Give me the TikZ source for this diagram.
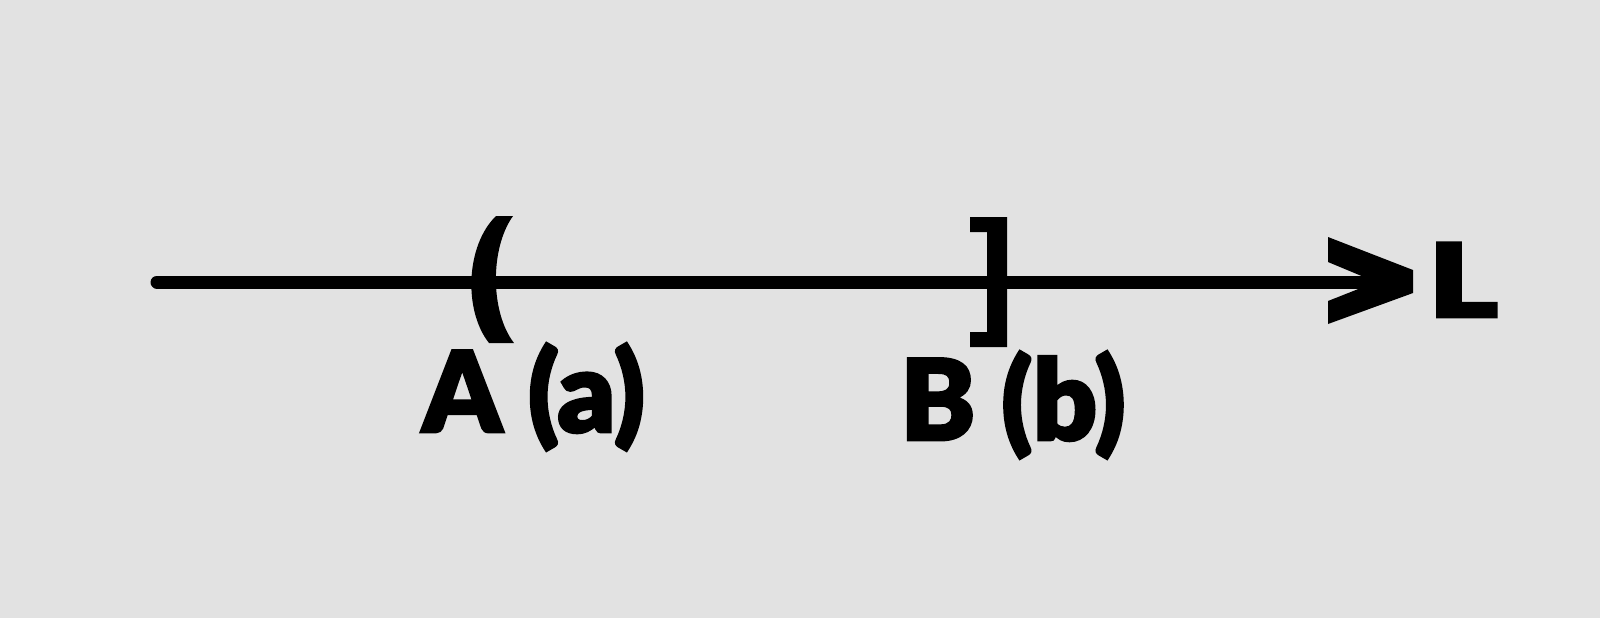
\documentclass[tikz,border=0pt]{standalone}
\usepackage{fontspec}
\usepackage{xcolor}
\usepackage{graphicx}
\usepackage{tikz}
\newfontfamily\labfont{Lato Black}[FakeBold=2.5]
\definecolor{bggray}{RGB}{226,226,226}

\begin{document}
\begin{tikzpicture}[x=0.5pt,y=0.5pt,yscale=-1,
  lab/.style={anchor=base west,inner sep=0pt,font=\labfont\fontsize{56}{60}\selectfont}]
\useasboundingbox (0,0) rectangle (1600,618);
\fill[bggray] (0,0) rectangle (1600,618);

% end points of the line
\coordinate (start) at (157,282);
\coordinate (tip) at (1378,282);

%Straight Lines
\draw[line width=6.5pt,line cap=round] (start) -- (tip);

%Shape: open end at a
\fill (496,216) -- (513,216) .. controls (490,248) and (490,312) .. (514,343) -- (489,343) .. controls (463,310) and (466,245) .. (496,216) -- cycle;
%Shape: closed end at b
\fill (970,217) -- (1007,217) -- (1007,347) -- (970,347) -- (970,332) -- (987,332) -- (987,232) -- (970,232) -- cycle;
%Shape: arrow head
\fill (1328,237) -- (1413,270) -- (1413,293) -- (1328,324) -- (1328,301) -- (1376,282) -- (1328,262) -- cycle;

% Text Node
\node[lab] (labA) at (422,432) {A (a)};
% Text Node
\node[lab] (labB) at (900,440) {B (b)};
% Text Node
\node[lab,font=\labfont\fontsize{51}{56}\selectfont] (labL) at (1428,317) {\scalebox{1.3}[1]{L}};
\end{tikzpicture}
\end{document}
